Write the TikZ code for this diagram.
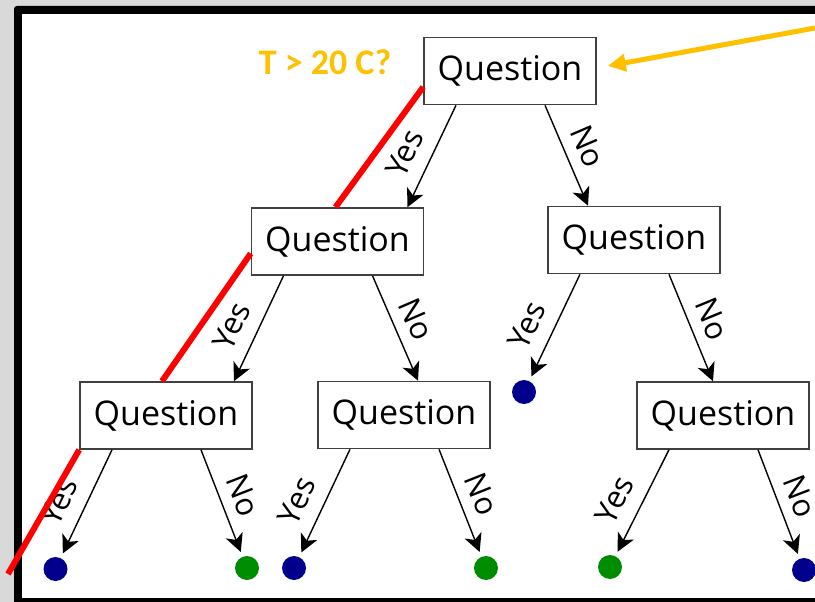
\documentclass[tikz,border=0pt]{standalone}
\usepackage{fontspec}
\setmainfont{Open Sans}
\newfontfamily\condfont{Carlito}
\usetikzlibrary{arrows.meta}
\definecolor{condyellow}{HTML}{FFC000}
\definecolor{leafblue}{HTML}{00008C}
\definecolor{leafgreen}{HTML}{008C00}
\definecolor{bggray}{HTML}{D9D9D9}

\begin{document}
\begin{tikzpicture}[x=1pt,y=-1pt,
    qbox/.style={draw=black!75, line width=1.6pt, fill=white, minimum width=172pt,
      minimum height=67pt, inner sep=0pt, font=\fontsize{34}{40}\selectfont},
    leaf/.style={circle, fill=#1, minimum size=24pt, inner sep=0pt},
    arr/.style={-{Stealth[length=18pt,width=18pt,inset=5pt]}, line width=1.4pt},
    ylbl/.style={pos=0.58, sloped, above=12pt, inner sep=2pt, font=\fontsize{31}{36}\selectfont},
    nlbl/.style={midway, sloped, above=9pt, inner sep=2pt, font=\fontsize{31}{36}\selectfont},
    cut/.style={red, line width=6pt}]
  \clip (0,0) rectangle (815,602);
  % frame
  \fill[bggray] (0,0) rectangle (815,602);
  \fill[black, rounded corners=3pt] (14,6) rectangle (840,612);
  \fill[white] (22,14) rectangle (840,598);

  % questions
  \node[qbox] (q0) at (510,71) {Question};
  \node[qbox] (q1) at (337.5,241.5) {Question};
  \node[qbox] (q2) at (634,240) {Question};
  \node[qbox] (q3) at (166,415.5) {Question};
  \node[qbox] (q4) at (404,415) {Question};
  \node[qbox] (q5) at (723,415.5) {Question};

  % leaves
  \node[leaf=leafblue] (l1) at (55.5,569) {};
  \node[leaf=leafgreen] (l2) at (247,568) {};
  \node[leaf=leafblue] (l3) at (294,568) {};
  \node[leaf=leafgreen] (l4) at (486,568) {};
  \node[leaf=leafgreen] (l5) at (610,567) {};
  \node[leaf=leafblue] (l6) at (804,570) {};
  \node[leaf=leafblue] (l7) at (524,392) {};

  \draw[arr] ([xshift=-54pt]q0.south) -- ([xshift=70pt]q1.north) node[ylbl] {Yes};
  \draw[arr] ([xshift=35pt]q0.south) -- ([xshift=-46pt]q2.north) node[nlbl] {No};
  \draw[arr] ([xshift=-54pt]q1.south) -- ([xshift=68pt]q3.north) node[ylbl] {Yes};
  \draw[arr] ([xshift=35pt]q1.south) -- ([xshift=14pt]q4.north) node[nlbl] {No};
  \draw[arr, shorten >=5pt] ([xshift=-54pt]q2.south) -- (l7) node[ylbl] {Yes};
  \draw[arr] ([xshift=35pt]q2.south) -- ([xshift=-10pt]q5.north) node[nlbl] {No};
  \draw[arr, shorten >=5pt] ([xshift=-54pt]q3.south) -- (l1) node[ylbl] {Yes};
  \draw[arr, shorten >=5pt] ([xshift=35pt]q3.south) -- (l2) node[nlbl] {No};
  \draw[arr, shorten >=5pt] ([xshift=-54pt]q4.south) -- (l3) node[ylbl] {Yes};
  \draw[arr, shorten >=5pt] ([xshift=35pt]q4.south) -- (l4) node[nlbl] {No};
  \draw[arr, shorten >=5pt] ([xshift=-54pt]q5.south) -- (l5) node[ylbl] {Yes};
  \draw[arr, shorten >=5pt] ([xshift=35pt]q5.south) -- (l6) node[nlbl] {No};

  % the path taken
  \coordinate (cutend) at (8,574);
  \draw[cut] ([yshift=-16pt]q0.west) -- ([xshift=-2pt]q1.north);
  \draw[cut] ([yshift=-12pt]q1.west) -- ([xshift=-4pt]q3.north);
  \draw[cut] (q3.south west) -- (cutend);

  % condition
  \node[text=condyellow, font=\condfont\bfseries\fontsize{36}{40}\selectfont, anchor=base]
    (cond) at (325,75) {T > 20 C?};
  \coordinate (pointer) at (815,28);
  \draw[-{Triangle[length=18pt,width=17pt]}, condyellow, line width=5pt]
    (pointer) -- ([xshift=11pt,yshift=5pt]q0.east);
\end{tikzpicture}
\end{document}
